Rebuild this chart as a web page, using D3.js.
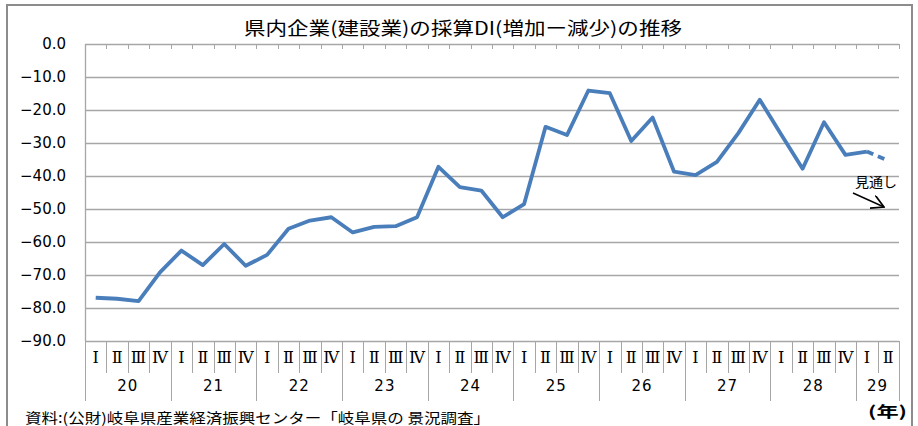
<!DOCTYPE html>
<html>
<head>
<meta charset="utf-8">
<script src="https://cdn.jsdelivr.net/npm/d3@7"></script>
<style>
  body { margin: 0; background: #fff; }
  svg { display: block; }
</style>
</head>
<body>
<div id="app"></div>
<script>
// data
var years = ['20','21','22','23','24','25','26','27','28','29'];
var quarters = ['Ⅰ','Ⅱ','Ⅲ','Ⅳ'];
var quartersInLastYear = 2;
var values = [-76.9,-77.2,-77.9,-69.2,-62.6,-67.0,-60.6,-67.2,-63.9,-56.0,
              -53.5,-52.5,-57.1,-55.4,-55.2,-52.5,-37.2,-43.4,-44.4,-52.5,
              -48.5,-25.1,-27.6,-14.1,-14.9,-29.4,-22.3,-38.7,-39.7,-35.7,
              -27.0,-16.9,-27.4,-37.8,-23.7,-33.6,-32.6,-35.4];
var forecastFrom = 36; // last segment is the outlook (見通し)
var yTicks = [0,-10,-20,-30,-40,-50,-60,-70,-80,-90];

// categories: one per quarter
var cats = [];
years.forEach(function(yr,yi){
  var n = (yi == years.length-1) ? quartersInLastYear : quarters.length;
  for (var q=0;q<n;q++) cats.push({year:yr, q:quarters[q], i:cats.length});
});

var W = 918, H = 426;
var plotL = 85, plotR = 899, plotT = 44, plotB = 341;

var svg = d3.select('#app').append('svg')
    .attr('width',W).attr('height',H);

// outer frame
svg.append('rect')
    .attr('x',7).attr('y',5).attr('width',905).attr('height',440)
    .attr('fill','none').attr('stroke','#8c8c8c').attr('stroke-width',2);

var x = d3.scaleBand().domain(cats.map(function(d){return d.i;}))
    .range([plotL,plotR]).paddingInner(0).paddingOuter(0);
var bw = x.bandwidth();
var y = d3.scaleLinear().domain([-90,0]).range([plotB,plotT]);

// gridlines
svg.append('g').selectAll('line').data(yTicks).enter().append('line')
    .attr('x1',plotL).attr('x2',plotR)
    .attr('y1',function(d){return Math.round(y(d))+0.5;})
    .attr('y2',function(d){return Math.round(y(d))+0.5;})
    .attr('stroke','#a6a6a6').attr('stroke-width',1.3);

// y axis line
svg.append('line').attr('x1',plotL+0.5).attr('x2',plotL+0.5)
    .attr('y1',plotT).attr('y2',plotB)
    .attr('stroke','#a6a6a6').attr('stroke-width',1.3);

// y labels
svg.append('g').selectAll('text').data(yTicks).enter().append('text')
    .attr('x',66).attr('y',function(d){return y(d);})
    .attr('dy','0.35em').attr('text-anchor','end')
    .attr('font-family','DejaVu Sans').attr('font-size',15).attr('fill','#000')
    .text(function(d){return d3.format('.1f')(d);});

// ticks on the 0 line
var bounds = d3.range(cats.length+1).map(function(i){return plotL + i*bw;});
svg.append('g').selectAll('line').data(bounds).enter().append('line')
    .attr('x1',function(d){return Math.round(d)+0.5;})
    .attr('x2',function(d){return Math.round(d)+0.5;})
    .attr('y1',y(0)).attr('y2',y(0)+5)
    .attr('stroke','#a6a6a6').attr('stroke-width',1);

// category table below the plot
var yearStarts = [];
cats.forEach(function(d){ if (d.q == quarters[0]) yearStarts.push(d.i); });
svg.append('g').selectAll('line').data(bounds).enter().append('line')
    .attr('x1',function(d){return Math.round(d)+0.5;})
    .attr('x2',function(d){return Math.round(d)+0.5;})
    .attr('y1',plotB)
    .attr('y2',function(d,i){
      return (yearStarts.indexOf(i) >= 0 || i == cats.length) ? 401 : 373;
    })
    .attr('stroke','#a6a6a6').attr('stroke-width',1);

svg.append('g').selectAll('text').data(cats).enter().append('text')
    .attr('x',function(d){return x(d.i)+bw/2;})
    .attr('y',357).attr('dy','0.35em').attr('text-anchor','middle')
    .attr('font-family','DejaVu Serif').attr('font-size',16).attr('fill','#000')
    .text(function(d){return d.q;});

svg.append('g').selectAll('text').data(years).enter().append('text')
    .attr('x',function(d){
      var g = cats.filter(function(c){return c.year==d;});
      return (x(g[0].i) + x(g[g.length-1].i) + bw)/2;
    })
    .attr('y',386).attr('dy','0.35em').attr('text-anchor','middle')
    .attr('font-family','DejaVu Sans').attr('font-size',15).attr('fill','#000')
    .attr('letter-spacing',1)
    .text(function(d){return d;});

// line
var line = d3.line()
    .x(function(d){return x(d.i)+bw/2;})
    .y(function(d){return y(d.v);});
var pts = values.map(function(v,i){return {i:i, v:v};});

svg.append('path').datum(pts.slice(0,forecastFrom+1))
    .attr('d',line).attr('fill','none')
    .attr('stroke','#4a7ebb').attr('stroke-width',3.8)
    .attr('stroke-linejoin','round');
svg.append('path').datum(pts.slice(forecastFrom))
    .attr('d',line).attr('fill','none')
    .attr('stroke','#4a7ebb').attr('stroke-width',3.8)
    .attr('stroke-dasharray','7,5');

// title
svg.append('text').attr('x',463).attr('y',29).attr('dy','0.35em')
    .attr('text-anchor','middle')
    .attr('font-family','Noto Sans CJK JP').attr('font-size',18)
    .attr('textLength',438).attr('lengthAdjust','spacingAndGlyphs')
    .attr('fill','#000')
    .text('県内企業(建設業)の採算DI(増加ー減少)の推移');

// outlook annotation
svg.append('text').attr('x',855).attr('y',182).attr('dy','0.35em')
    .attr('font-family','Noto Sans CJK JP').attr('font-size',14).attr('fill','#000')
    .text('見通し');
svg.append('defs').append('marker')
    .attr('id','arr').attr('viewBox','0 0 10 10').attr('refX',9).attr('refY',5)
    .attr('markerWidth',10).attr('markerHeight',10).attr('orient','auto')
  .append('path').attr('d','M0,0 L9,5 L0,10').attr('fill','none')
    .attr('stroke','#000').attr('stroke-width',1.2);
svg.append('line').attr('x1',853).attr('y1',193).attr('x2',884).attr('y2',207)
    .attr('stroke','#000').attr('stroke-width',1.4).attr('marker-end','url(#arr)');

// unit and source
svg.append('text').attr('x',868).attr('y',412).attr('dy','0.35em')
    .attr('font-family','Noto Sans CJK JP').attr('font-size',15).attr('font-weight','bold')
    .attr('textLength',39).attr('lengthAdjust','spacingAndGlyphs')
    .attr('fill','#000').text('(年)');
svg.append('text').attr('x',25).attr('y',418).attr('dy','0.35em')
    .attr('font-family','Noto Sans CJK JP').attr('font-size',14).attr('fill','#000')
    .attr('textLength',465).attr('lengthAdjust','spacingAndGlyphs')
    .text('資料:(公財)岐阜県産業経済振興センター「岐阜県の 景況調査」');
</script>
</body>
</html>
